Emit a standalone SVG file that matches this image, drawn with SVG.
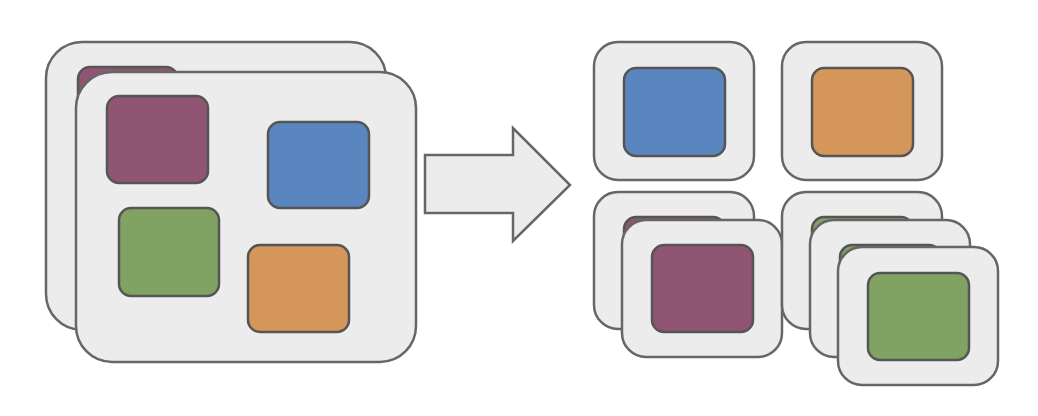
<svg xmlns="http://www.w3.org/2000/svg" width="1038" height="416" viewBox="0 0 1038 416">
<style>
.c{fill:#ececec;stroke:#666;stroke-width:2.5}
.s{stroke:#555;stroke-width:2.5}
.p{fill:#8f5573}.b{fill:#5a86bf}.g{fill:#80a262}.o{fill:#d49659}
</style>
<rect width="1038" height="416" fill="#fff"/>
<g id="left-back"><rect class="c" x="46" y="42" width="340" height="288" rx="36"/><rect class="s p" x="78" y="67" width="100" height="87" rx="12"/></g>
<g id="left-front"><rect class="c" x="76" y="72" width="340" height="290" rx="36"/>
<rect class="s p" x="107" y="96" width="101" height="87" rx="12"/>
<rect class="s b" x="268" y="122" width="101" height="86" rx="12"/>
<rect class="s g" x="119" y="208" width="100" height="88" rx="12"/>
<rect class="s o" x="248" y="245" width="101" height="87" rx="12"/></g>
<g id="connectors"><polygon class="c" points="425,155 513,155 513,128 570,185 513,241 513,213 425,213"/></g>
<g id="blue-card"><rect class="c" x="594" y="42" width="160" height="138" rx="24"/><rect class="s b" x="624" y="68" width="101" height="88" rx="12"/></g>
<g id="orange-card"><rect class="c" x="782" y="42" width="160" height="138" rx="24"/><rect class="s o" x="812" y="68" width="101" height="88" rx="12"/></g>
<g id="purple-stack">
<rect class="c" x="594" y="192" width="160" height="137" rx="24"/><rect class="s p" x="624" y="217" width="101" height="87" rx="12"/>
<rect class="c" x="622" y="220" width="160" height="137" rx="24"/><rect class="s p" x="652" y="245" width="101" height="87" rx="12"/></g>
<g id="green-stack">
<rect class="c" x="782" y="192" width="160" height="137" rx="24"/><rect class="s g" x="812" y="217" width="101" height="87" rx="12"/>
<rect class="c" x="810" y="220" width="160" height="137" rx="24"/><rect class="s g" x="840" y="245" width="101" height="87" rx="12"/>
<rect class="c" x="838" y="247" width="160" height="138" rx="24"/><rect class="s g" x="868" y="273" width="101" height="87" rx="12"/></g>
</svg>
